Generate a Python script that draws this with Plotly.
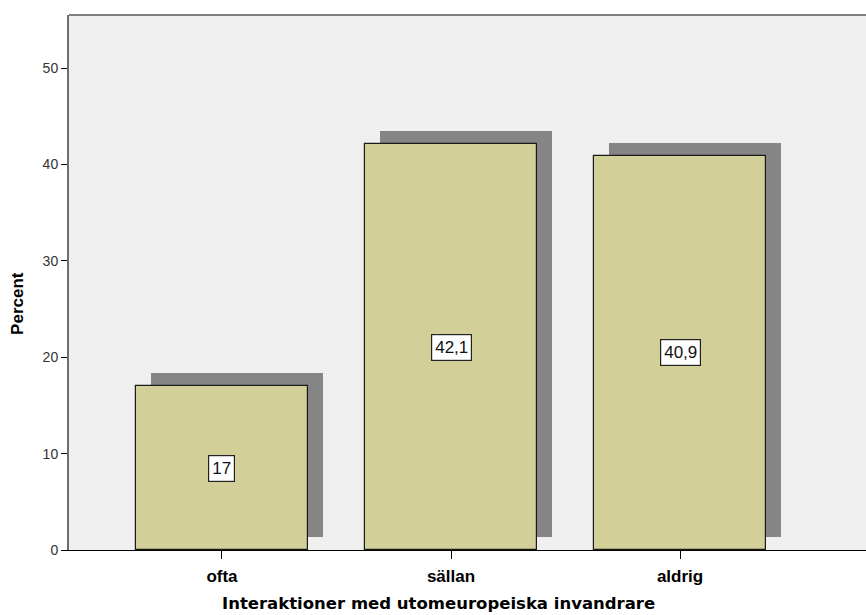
import plotly.graph_objects as go

categories = ["ofta", "sällan", "aldrig"]
values = [17.0, 42.1, 40.9]
value_labels = ["17", "42,1", "40,9"]
y_ticks = [0, 10, 20, 30, 40, 50]

x_idx = list(range(len(categories)))
bar_w = 0.75
sh_dx = 0.065
sh_dy = 1.35

fig = go.Figure()
# shadow
fig.add_trace(go.Bar(
    x=x_idx, y=values, base=[sh_dy]*len(values), width=bar_w,
    offset=-bar_w/2 + sh_dx,
    marker=dict(color="#858585", line=dict(width=0)),
    hoverinfo="skip", showlegend=False))
# main bars
fig.add_trace(go.Bar(
    x=x_idx, y=values, width=bar_w, offset=-bar_w/2,
    marker=dict(color="#d3cf98", line=dict(color="#1a1a1a", width=1.2)),
    showlegend=False))

for i, (v, lab) in enumerate(zip(values, value_labels)):
    fig.add_annotation(x=i, y=v/2, text=lab, showarrow=False,
                       font=dict(family="Liberation Sans, Arial", size=17, color="#111111"),
                       bgcolor="white", bordercolor="#222222", borderwidth=1.2, borderpad=3)

fig.add_annotation(xref="paper", yref="paper", x=0.464, y=0, yshift=-53,
                   text="<b>Interaktioner med utomeuropeiska invandrare</b>",
                   showarrow=False, xanchor="center", yanchor="middle",
                   font=dict(family="DejaVu Sans", size=16.5, color="black"))

fig.add_annotation(xref="paper", yref="paper", x=0, xshift=-51, y=0.46,
                   text="<b>Percent</b>", textangle=-90,
                   showarrow=False, xanchor="center", yanchor="middle",
                   font=dict(family="Liberation Sans, Arial", size=17, color="black"))

fig.add_shape(type="line", xref="paper", yref="paper", x0=0, x1=1, y0=1, y1=1,
              line=dict(color="#808080", width=2))

fig.update_layout(
    width=866, height=615,
    margin=dict(l=69, r=0, t=15, b=65),
    paper_bgcolor="white", plot_bgcolor="#efefef",
    barmode="overlay", bargap=0,
    font=dict(family="Liberation Sans, Arial", color="black"),
    xaxis=dict(range=[-0.668, 2.812], tickvals=x_idx, ticktext=["<b>%s</b>" % c for c in categories],
               ticks="outside", ticklen=8, tickcolor="black", tickwidth=1,
               ticklabelstandoff=3,
               tickfont=dict(size=17, color="black"),
               showline=True, linecolor="black", linewidth=1,
               showgrid=False, zeroline=False, fixedrange=True),
    yaxis=dict(range=[0, 55.5], tickvals=y_ticks, ticks="outside", ticklen=6,
               tickcolor="black", tickwidth=1,
               tickfont=dict(size=14, color="#333333"),
               showline=True, linecolor="#6e6e6e", linewidth=2,
               showgrid=False, zeroline=False, fixedrange=True),
)

fig.write_html("out.html", config={"displayModeBar": False},
               post_script="document.body.style.margin='0';document.body.style.overflow='hidden';")
